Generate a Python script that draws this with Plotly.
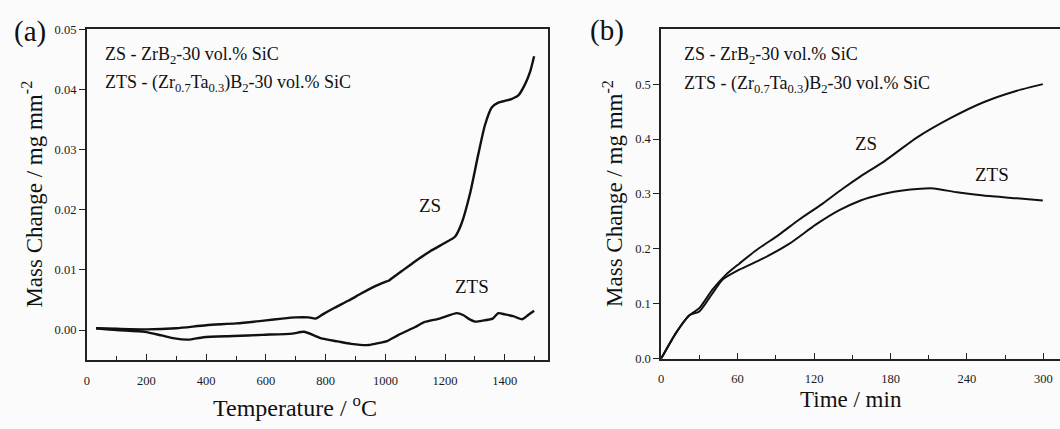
import plotly.graph_objects as go

# (a) non-isothermal oxidation: mass change vs temperature
temp_zs = [31, 100, 200, 300, 400, 500, 600, 654, 700, 743, 766, 790, 830, 877, 920, 966,
           1000, 1011, 1022, 1055, 1099, 1150, 1200, 1233, 1255, 1283, 1311, 1333, 1356,
           1378, 1400, 1422, 1445, 1467, 1485, 1498]
mass_zs_a = [0.0003, 0.0002, 0.0001, 0.0003, 0.0008, 0.0011, 0.0016, 0.0019, 0.0021, 0.0021,
             0.0019, 0.0026, 0.0037, 0.0049, 0.0061, 0.0073, 0.0080, 0.0082, 0.0086, 0.0098,
             0.0114, 0.0131, 0.0145, 0.0155, 0.0177, 0.0226, 0.0292, 0.0340, 0.0370, 0.0378,
             0.0381, 0.0384, 0.0390, 0.0408, 0.0430, 0.0455]

temp_zts = [31, 100, 194, 250, 294, 340, 391, 491, 588, 688, 727, 766, 785, 840, 885, 944,
            984, 1003, 1044, 1100, 1130, 1181, 1239, 1260, 1278, 1300, 1330, 1359, 1378,
            1400, 1428, 1458, 1478, 1498]
mass_zts_a = [0.0003, 0.0000, -0.0003, -0.0009, -0.0014, -0.0016, -0.0012, -0.0010, -0.0008,
              -0.0006, -0.0003, -0.0010, -0.0014, -0.0019, -0.0023, -0.0025, -0.0021, -0.0019,
              -0.0008, 0.0005, 0.0013, 0.0019, 0.0028, 0.0025, 0.0019, 0.0014, 0.0016, 0.0019,
              0.0028, 0.0026, 0.0023, 0.0018, 0.0025, 0.0032]

# (b) isothermal oxidation: mass change vs time
time_zs = [0, 11.7, 22.2, 30, 40.4, 50.9, 61.3, 74.3, 92.6, 108.2, 126.5, 142.2, 156.5,
           174.8, 200.9, 227, 253, 279.2, 299.5]
mass_zs_b = [0, 0.047, 0.079, 0.092, 0.126, 0.153, 0.173, 0.197, 0.226, 0.253, 0.282, 0.309,
             0.332, 0.359, 0.403, 0.438, 0.467, 0.488, 0.500]

time_zts = [0, 11.7, 22.2, 30, 40, 48.3, 61.3, 79.6, 100.4, 121.3, 139.5, 156.5, 164.3,
            182.6, 200.9, 214, 232.2, 253, 279.2, 299.5]
mass_zts_b = [0, 0.047, 0.079, 0.086, 0.118, 0.144, 0.162, 0.182, 0.209, 0.244, 0.270, 0.288,
              0.294, 0.304, 0.309, 0.310, 0.303, 0.297, 0.292, 0.288]

ticks_temp = [0, 200, 400, 600, 800, 1000, 1200, 1400]
ticks_mass_a = [0.00, 0.01, 0.02, 0.03, 0.04, 0.05]
ticks_time = [0, 60, 120, 180, 240, 300]
ticks_mass_b = [0.0, 0.1, 0.2, 0.3, 0.4, 0.5]

W, H = 1060, 429
SERIF = "Liberation Serif"
INK = "#111111"
BG = "#fbfbfb"


def px_x(p):
    return p / W


def px_y(p):
    return 1 - p / H


fig = go.Figure()
fig.add_trace(go.Scatter(x=temp_zs, y=mass_zs_a, mode="lines", xaxis="x", yaxis="y",
                         line=dict(color=INK, width=2.4, shape="spline", smoothing=0.6)))
fig.add_trace(go.Scatter(x=temp_zts, y=mass_zts_a, mode="lines", xaxis="x", yaxis="y",
                         line=dict(color=INK, width=2.4, shape="spline", smoothing=0.6)))
fig.add_trace(go.Scatter(x=time_zs, y=mass_zs_b, mode="lines", xaxis="x2", yaxis="y2",
                         line=dict(color=INK, width=2.0, shape="spline", smoothing=0.6)))
fig.add_trace(go.Scatter(x=time_zts, y=mass_zts_b, mode="lines", xaxis="x2", yaxis="y2",
                         line=dict(color=INK, width=2.0, shape="spline", smoothing=0.6)))

tickfont = dict(family=SERIF, size=12.5, color="#1a1a1a")
common_x = dict(showgrid=False, zeroline=False, showline=True, linecolor="#222222",
                linewidth=1.6, ticks="inside", ticklen=6, tickwidth=1.4, tickcolor="#222222",
                tickfont=tickfont, ticklabelstandoff=8)
common_y = dict(showgrid=False, zeroline=False, showline=True, linecolor="#222222",
                linewidth=1.6, ticks="outside", ticklen=6, tickwidth=1.4, tickcolor="#222222",
                tickfont=tickfont)

ya_dom = [px_y(365), px_y(23)]
yb_dom = [px_y(363.5), px_y(23)]

fig.update_layout(
    width=W, height=H,
    margin=dict(l=0, r=0, t=0, b=0),
    paper_bgcolor=BG, plot_bgcolor=BG,
    showlegend=False,
    font=dict(family=SERIF),
    xaxis=dict(common_x, domain=[px_x(84), px_x(547)], range=[0, 1546],
               tickvals=ticks_temp, mirror=True,
               minor=dict(dtick=100, ticks="inside", ticklen=4, tickwidth=1.2,
                          tickcolor="#222222", showgrid=False)),
    yaxis=dict(common_y, domain=ya_dom, range=[-0.005, 0.05], tickvals=ticks_mass_a,
               tickformat=".2f", mirror=True),
    xaxis2=dict(common_x, domain=[px_x(660), 1.0], range=[0, 313], anchor="y2",
                tickvals=ticks_time, mirror=True,
                minor=dict(dtick=30, ticks="inside", ticklen=4, tickwidth=1.2,
                           tickcolor="#222222", showgrid=False)),
    yaxis2=dict(common_y, domain=yb_dom, range=[0, 0.6], anchor="x2", tickvals=ticks_mass_b,
                tickformat=".1f"),
)

anns = []


def text(x, y, s, size, xref="paper", yref="paper", xanchor="center", angle=0):
    anns.append(dict(x=x, y=y, xref=xref, yref=yref, text=s, showarrow=False,
                     xanchor=xanchor, yanchor="middle", textangle=angle,
                     font=dict(family=SERIF, size=size, color=INK)))


# panel letters
text(px_x(27), px_y(25), "(a)", 29)
text(px_x(606), px_y(24), "(b)", 29)

# composition notes
note1 = "ZS - ZrB<sub>2</sub>-30 vol.% SiC"
note2 = "ZTS - (Zr<sub>0.7</sub>Ta<sub>0.3</sub>)B<sub>2</sub>-30 vol.% SiC"
text(px_x(100), px_y(50), note1, 18, xanchor="left")
text(px_x(100), px_y(79), note2, 18, xanchor="left")
text(px_x(681), px_y(50), note1, 18, xanchor="left")
text(px_x(681), px_y(80), note2, 18, xanchor="left")

# curve labels
text(1148, 0.0207, "ZS", 19, xref="x", yref="y")
text(1289, 0.0072, "ZTS", 19, xref="x", yref="y")
text(160.4, 0.391, "ZS", 19, xref="x2", yref="y2")
text(259.6, 0.336, "ZTS", 19, xref="x2", yref="y2")

# axis titles
ytitle = "Mass Change / mg mm<sup>-2</sup>"
text(px_x(30), px_y(193), ytitle, 23, angle=-90)
text(px_x(612), px_y(193), ytitle, 23, angle=-90)
text(px_x(293), px_y(412), "Temperature / <sup>o</sup>C", 24)
text(px_x(850), px_y(406), "Time / min", 23)

fig.update_layout(annotations=anns)
fig.write_html("out.html")
